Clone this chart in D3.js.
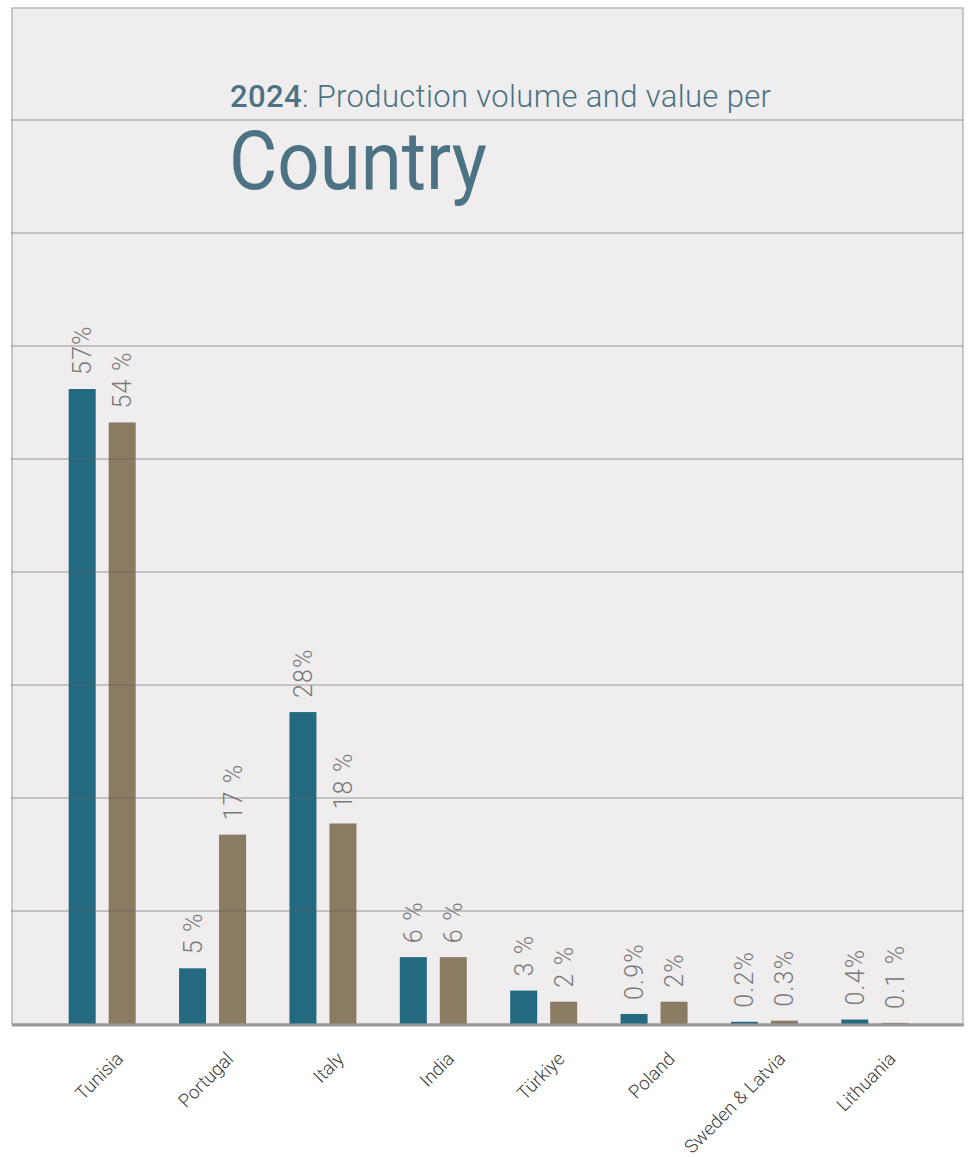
<!DOCTYPE html>
<html>
<head>
<meta charset="utf-8">
<script src="https://cdn.jsdelivr.net/npm/d3@7"></script>
<style>
  html, body { margin: 0; padding: 0; background: #ffffff; }
  svg { display: block; }
</style>
</head>
<body>
<svg id="chart" width="970" height="1157"></svg>
<script>
const categories = ["Tunisia", "Portugal", "Italy", "India", "Türkiye", "Poland", "Sweden & Latvia", "Lithuania"];
const seriesNames = ["volume", "value"];
const volumeValues = [57, 5, 28, 6, 3, 0.9, 0.2, 0.4];
const valueValues = [54, 17, 18, 6, 2, 2, 0.3, 0.1];
const volumeLabels = ["57%", "5 %", "28%", "6 %", "3 %", "0.9%", "0.2%", "0.4%"];
const valueLabels = ["54 %", "17 %", "18 %", "6 %", "2 %", "2%", "0.3%", "0.1 %"];
const gridSteps = [0, 1, 2, 3, 4, 5, 6, 7, 8];
const titleYear = "2024";
const titleRest = ": Production volume and value per";
const titleMain = "Country";

const colors = { volume: "#236a80", value: "#8b7b63" };

const svg = d3.select("#chart");
const frame = { left: 12, right: 963, top: 8, bottom: 1024 };

// background panel
svg.append("rect")
  .attr("x", frame.left).attr("y", frame.top)
  .attr("width", frame.right - frame.left).attr("height", frame.bottom - frame.top)
  .attr("fill", "#efedee")
  .attr("stroke", "#b9b7b8").attr("stroke-width", 1.5);

const y = d3.scaleLinear().domain([0, 81.15]).range([frame.bottom, 120]);
const grid = d3.scaleLinear().domain([0, 8]).range([frame.bottom, 120]);

const x0 = d3.scaleBand().domain(categories).range([47, 930]).padding(0);
const x1 = d3.scaleBand().domain(seriesNames).range([0, 67]).paddingInner(0.325).paddingOuter(0);
const groupOffset = (x0.bandwidth() - 67) / 2;

const data = categories.map((c, i) => ({
  category: c,
  items: [
    { series: "volume", v: volumeValues[i], label: volumeLabels[i] },
    { series: "value", v: valueValues[i], label: valueLabels[i] }
  ]
}));

// title
const title = svg.append("text")
  .attr("x", 230).attr("y", 107)
  .attr("font-family", "Roboto, 'Liberation Sans', sans-serif")
  .attr("font-size", 31)
  .attr("letter-spacing", 0.35)
  .attr("fill", "#4b7383");
title.append("tspan").attr("font-weight", 500).text(titleYear);
title.append("tspan").attr("font-weight", 300).text(titleRest);

svg.append("text")
  .attr("x", 229).attr("y", 189)
  .attr("font-family", "Roboto, 'Liberation Sans', sans-serif")
  .attr("font-size", 82)
  .attr("font-weight", 400)
  .attr("textLength", 258)
  .attr("lengthAdjust", "spacingAndGlyphs")
  .attr("fill", "#4b7383")
  .text(titleMain);

// bars
const groups = svg.append("g").selectAll("g")
  .data(data).join("g")
  .attr("transform", d => `translate(${x0(d.category) + groupOffset},0)`);

groups.selectAll("rect")
  .data(d => d.items).join("rect")
  .attr("x", d => x1(d.series))
  .attr("y", d => y(d.v))
  .attr("width", x1.bandwidth())
  .attr("height", d => y(0) - y(d.v))
  .attr("fill", d => colors[d.series]);

groups.selectAll("text")
  .data(d => d.items).join("text")
  .attr("transform", d => `translate(${x1(d.series) + x1.bandwidth() / 2},${y(d.v) - 14}) rotate(-90)`)
  .attr("dy", "0.36em")
  .attr("text-anchor", "start")
  .attr("font-family", "Roboto, 'Liberation Sans', sans-serif")
  .attr("font-weight", 300)
  .attr("font-size", 25)
  .attr("letter-spacing", 1.2)
  .attr("fill", "#7a7a7a")
  .text(d => d.label);

// gridlines over bars
svg.append("g").selectAll("line")
  .data(gridSteps.slice(1)).join("line")
  .attr("x1", frame.left - 1).attr("x2", frame.right)
  .attr("y1", d => grid(d)).attr("y2", d => grid(d))
  .attr("stroke", "#5f5f5f").attr("stroke-opacity", 0.6).attr("stroke-width", 1);

// baseline
svg.append("line")
  .attr("x1", frame.left).attr("x2", frame.right + 1)
  .attr("y1", grid(0) + 1).attr("y2", grid(0) + 1)
  .attr("stroke", "#999999").attr("stroke-width", 3);

// category labels
svg.append("g").selectAll("text")
  .data(categories).join("text")
  .attr("transform", d => `translate(${x0(d) + x0.bandwidth() / 2 + 22},${1060}) rotate(-45)`)
  .attr("text-anchor", "end")
  .attr("font-family", "Roboto, 'Liberation Sans', sans-serif")
  .attr("font-weight", 300)
  .attr("font-size", 18.5)
  .attr("fill", "#3a3a3a")
  .text(d => d);
</script>
</body>
</html>
